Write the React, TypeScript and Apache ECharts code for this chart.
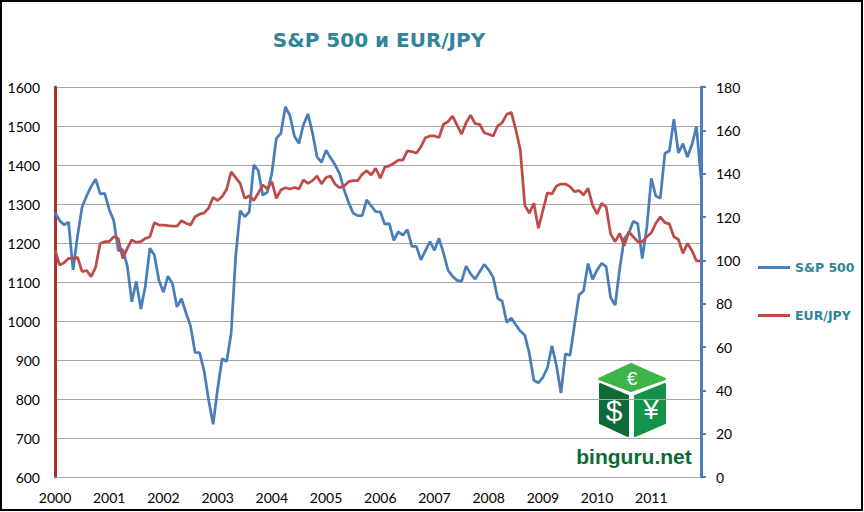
import React, { useEffect, useRef } from "react";
import * as echarts from "echarts";

const yearLabels = ["2000", "2001", "2002", "2003", "2004", "2005", "2006", "2007", "2008", "2009", "2010", "2011"];

// S&P 500 (left axis) as drawn in the reference
const spx = [
  1278,
  1257.6, 1246.9, 1253.3, 1131.4, 1218.9, 1292.3, 1320.6, 1345.2, 1363.6, 1325.8, 1327.2, 1286.1,
  1257.6, 1180.6, 1183.3, 1141.2, 1049.3, 1101.6, 1030.7, 1089.4, 1186.7, 1169.4, 1104.5, 1073.9,
  1115.1, 1095.6, 1036.2, 1057.1, 1020.6, 987.5, 919.3, 919.1, 872.8, 797.9, 735.1, 825.9,
  903.3, 896.2, 968.8, 1166.4, 1282.8, 1267.4, 1280.0, 1400.4, 1385.6, 1322.7, 1330.6, 1378.6,
  1468.4, 1481.1, 1549.4, 1526.8, 1474.0, 1455.3, 1503.4, 1530.6, 1482.4, 1420.9, 1406.8, 1438.2,
  1418.3, 1400.6, 1377.9, 1335.9, 1303.8, 1276.7, 1270.2, 1270.1, 1310.6, 1294.9, 1280.7, 1280.1,
  1248.3, 1249.5, 1207.0, 1228.8, 1220.3, 1234.2, 1191.3, 1191.5, 1156.9, 1180.6, 1203.6, 1181.3,
  1211.9, 1173.8, 1130.2, 1114.6, 1104.2, 1101.7, 1140.8, 1120.7, 1107.3, 1126.2, 1144.9, 1131.1,
  1111.9, 1058.2, 1050.7, 996.0, 1008.0, 990.3, 974.5, 963.6, 916.9, 848.2, 841.2, 855.7,
  879.8, 936.3, 885.8, 815.3, 916.1, 911.6, 989.8, 1067.1, 1076.9, 1147.4, 1106.7, 1130.2,
  1148.1, 1139.5, 1059.8, 1040.9, 1133.6, 1211.2, 1224.4, 1255.8, 1249.5, 1160.3, 1240.0, 1366.0,
  1320.3, 1315.0, 1429.4, 1436.5, 1517.7, 1430.8, 1454.6, 1420.6, 1452.4, 1498.6, 1366.4,
];

// EUR/JPY (right axis)
const eurjpy = [
  104.8, 97.8, 98.9, 100.9, 100.9, 101.4, 94.8, 95.3, 92.5, 96.9, 107.8, 108.6,
  108.6, 110.9, 110.1, 100.9, 105.5, 109.4, 108.3, 108.6, 110.1, 110.9, 117.4, 116.3,
  116.3, 116.0, 115.8, 115.8, 118.3, 117.1, 116.3, 120.1, 121.3, 121.9, 124.0, 129.1,
  127.6, 129.5, 132.8, 140.8, 138.2, 135.5, 128.6, 129.8, 127.6, 131.0, 134.8, 133.0,
  136.3, 128.6, 132.5, 133.5, 132.9, 133.6, 133.0, 137.1, 135.5, 136.8, 138.9, 135.3,
  138.2, 138.9, 135.2, 133.5, 134.3, 136.3, 136.8, 136.8, 139.7, 141.4, 139.4, 142.5,
  137.9, 143.0, 143.6, 144.8, 146.3, 146.3, 150.5, 150.2, 149.4, 152.4, 156.6, 157.4,
  157.4, 156.7, 162.8, 164.0, 166.6, 162.4, 158.3, 163.5, 167.0, 163.1, 162.8, 158.9,
  158.2, 157.4, 162.1, 163.6, 167.4, 168.3, 160.4, 150.9, 125.5, 121.7, 126.4, 114.8,
  123.0, 131.2, 130.6, 134.3, 135.2, 135.2, 134.0, 131.7, 132.2, 130.2, 133.2, 125.5,
  121.4, 126.3, 124.7, 112.1, 108.6, 112.4, 106.7, 113.2, 110.9, 108.6, 108.6, 110.9,
  112.7, 117.1, 120.1, 117.4, 116.8, 110.9, 109.6, 103.2, 107.8, 104.5, 99.7, 99.7,
];

const monthsPerYear = 12;
const categories: string[] = [];
yearLabels.forEach((y) => {
  for (let m = 1; m <= monthsPerYear; m++) categories.push(`${y}-${m < 10 ? "0" + m : m}`);
});

const BLUE = "#4A7EBB";
const RED = "#BE4B48";
const TEAL = "#31849B";

export default function App() {
  const ref = useRef<HTMLDivElement>(null);
  useEffect(() => {
    document.body.style.margin = "0";
    if (!ref.current) return;
    const chart = echarts.init(ref.current, undefined, { renderer: "svg" });
    const axisFont = { color: "#000", fontSize: 14, fontFamily: "Lato" };
    const legendText = { color: TEAL, fontWeight: "bold" as const, fontSize: 12.5, fontFamily: "DejaVu Sans" };
    chart.setOption({
      animation: false,
      backgroundColor: "#fff",
      title: {
        text: "S&P 500 и EUR/JPY",
        left: 379,
        top: 40,
        padding: 0,
        textAlign: "center",
        textVerticalAlign: "middle",
        textStyle: { color: TEAL, fontSize: 20, fontWeight: "bold", fontFamily: "DejaVu Sans" },
      },
      legend: [
        {
          data: [{ name: "S&P 500", icon: "rect" }],
          orient: "vertical",
          left: 758,
          top: 261,
          padding: 0,
          itemWidth: 32,
          itemHeight: 3,
          selectedMode: false,
          textStyle: legendText,
        },
        {
          data: [{ name: "EUR/JPY", icon: "rect" }],
          orient: "vertical",
          left: 758,
          top: 309,
          padding: 0,
          itemWidth: 32,
          itemHeight: 3,
          selectedMode: false,
          textStyle: legendText,
        },
      ],
      grid: { left: 55, right: 163, top: 87, bottom: 35, containLabel: false },
      xAxis: {
        type: "category",
        data: categories,
        boundaryGap: false,
        axisLine: { show: true, lineStyle: { color: "#A6A6A6", width: 1 } },
        axisTick: { show: false },
        axisLabel: {
          ...axisFont,
          interval: monthsPerYear - 1,
          margin: 13,
          formatter: (v: string) => v.slice(0, 4),
        },
        splitLine: { show: false },
      },
      yAxis: [
        {
          type: "value",
          min: 600,
          max: 1600,
          interval: 100,
          position: "left",
          axisLine: { show: true, lineStyle: { color: "#A8322D", width: 3 } },
          axisTick: { show: false },
          axisLabel: { ...axisFont, margin: 15, formatter: (v: number) => String(v) },
          splitLine: { show: true, lineStyle: { color: "#A6A6A6", width: 1 } },
        },
        {
          type: "value",
          min: 0,
          max: 180,
          interval: 20,
          position: "right",
          axisLine: { show: true, lineStyle: { color: BLUE, width: 3 } },
          axisTick: { show: true, inside: false, length: 5, lineStyle: { color: BLUE, width: 2 } },
          axisLabel: { ...axisFont, margin: 15, formatter: (v: number) => String(v) },
          splitLine: { show: false },
        },
      ],
      series: [
        {
          name: "S&P 500",
          type: "line",
          yAxisIndex: 0,
          data: spx,
          symbol: "none",
          color: BLUE,
          lineStyle: { color: BLUE, width: 2.75 },
        },
        {
          name: "EUR/JPY",
          type: "line",
          yAxisIndex: 1,
          data: eurjpy,
          symbol: "none",
          color: RED,
          lineStyle: { color: RED, width: 2.75 },
        },
      ],
      graphic: [
        {
          type: "rect",
          shape: { x: 1, y: 1, width: 861, height: 509 },
          style: { fill: "none", stroke: "#000", lineWidth: 2 },
          silent: true,
        },
        {
          type: "group",
          silent: true,
          children: [
            {
              type: "polygon",
              shape: { points: [[631, 364], [665, 379], [631, 391], [599, 379]] },
              style: { fill: "#3DB54A", stroke: "#3DB54A", lineWidth: 2, lineJoin: "round" },
            },
            {
              type: "polygon",
              shape: { points: [[600, 384], [628, 396], [628, 436], [600, 423]] },
              style: { fill: "#0E6B38", stroke: "#0E6B38", lineWidth: 2, lineJoin: "round" },
            },
            {
              type: "polygon",
              shape: { points: [[635, 396], [665, 384], [665, 423], [635, 436]] },
              style: { fill: "#13934A", stroke: "#13934A", lineWidth: 2, lineJoin: "round" },
            },
            {
              type: "text",
              x: 632,
              y: 378,
              style: {
                text: "€",
                fill: "#fff",
                font: "19px 'Liberation Sans'",
                align: "center",
                verticalAlign: "middle",
              },
            },
            {
              type: "text",
              x: 614,
              y: 410,
              style: {
                text: "$",
                fill: "#fff",
                font: "30px 'Liberation Sans'",
                align: "center",
                verticalAlign: "middle",
              },
            },
            {
              type: "text",
              x: 651,
              y: 409,
              style: {
                text: "¥",
                fill: "#fff",
                font: "28px 'Liberation Sans'",
                align: "center",
                verticalAlign: "middle",
              },
            },
            {
              type: "text",
              x: 634,
              y: 456,
              style: {
                text: "binguru.net",
                fill: "#0B6B36",
                font: "bold 21px 'Liberation Sans'",
                align: "center",
                verticalAlign: "middle",
              },
            },
          ],
        },
      ],
    });
    return () => chart.dispose();
  }, []);
  return <div ref={ref} style={{ width: 864, height: 512, position: "absolute", left: 0, top: 0 }} />;
}
